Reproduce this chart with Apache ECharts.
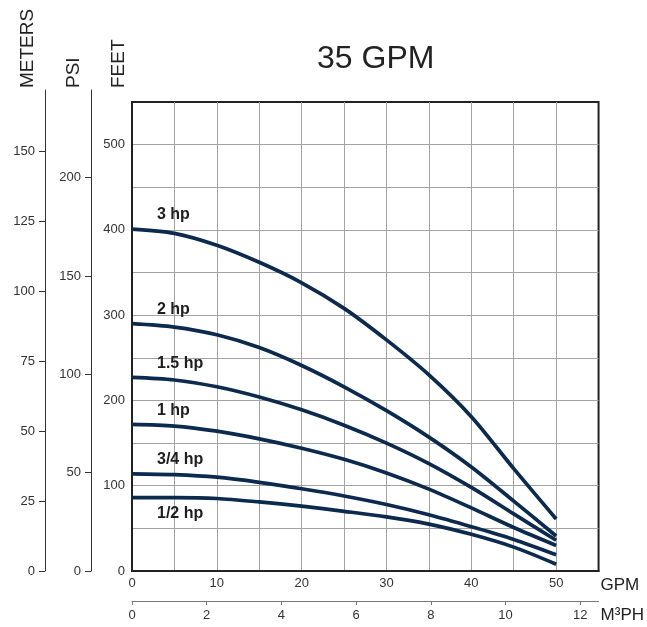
<!DOCTYPE html>
<html><head><meta charset="utf-8">
<script src="https://cdn.jsdelivr.net/npm/echarts@6/dist/echarts.min.js"></script>
<style>html,body{margin:0;padding:0;background:#fff}#c{width:647px;height:627px}</style>
</head><body><div id="c"></div>
<script>
// ---- data (flow in GPM, head in feet) ----
const gpm   = [0, 5, 10, 15, 20, 25, 30, 35, 40, 45, 50];
const hp3   = [401, 396, 382, 362, 338, 308, 271, 230, 181, 120, 61];
const hp2   = [290, 286, 277, 262, 241, 216, 188, 157, 122, 82, 41];
const hp15  = [227, 224, 216, 204, 189, 171, 150, 126, 98, 67, 36];
const hp1   = [172, 170, 164, 155, 144, 131, 115, 96, 74, 51, 30];
const hp34  = [114, 113, 110, 104, 96.5, 88, 78, 66, 52, 37, 19];
const hp12  = [86, 86, 85, 81, 76, 70, 63.5, 55, 43, 28, 8];
const curveNames = ['3 hp', '2 hp', '1.5 hp', '1 hp', '3/4 hp', '1/2 hp'];
const curveValues = [hp3, hp2, hp15, hp1, hp34, hp12];

// ---- tick labels ----
const feetTicks  = [0, 100, 200, 300, 400, 500];
const gpmTicks   = [0, 10, 20, 30, 40, 50];
const m3hTicks   = [0, 2, 4, 6, 8, 10, 12];
const meterTicks = [0, 25, 50, 75, 100, 125, 150];
const psiTicks   = [0, 50, 100, 150, 200];

// ---- unit conversions / ranges ----
const FT_PER_M = 3.2808, FT_PER_PSI = 2.3067, GPM_PER_M3H = 4.4029;
const FEET_MAX = 550, GPM_MAX = 55;

// ---- layout ----
const PLOT_TOP = 102, PLOT_BOTTOM = 571, AXIS_TOP = 90;
const extFeet = FEET_MAX * (PLOT_BOTTOM - AXIS_TOP) / (PLOT_BOTTOM - PLOT_TOP);
const FONT = '"Liberation Sans", Arial, Helvetica, sans-serif';
const NAVY = '#0b2a4e';
const labelStyle = { fontFamily: FONT, fontSize: 13, color: '#333' };

const chart = echarts.init(document.getElementById('c'), null, { renderer: 'canvas' });

const lineSeries = curveNames.map((n, i) => ({
  name: n,
  type: 'line',
  xAxisIndex: 0, yAxisIndex: 0,
  smooth: 0.3,
  showSymbol: false,
  symbol: 'none',
  lineStyle: { color: NAVY, width: 3.7, cap: 'butt' },
  data: gpm.map((g, j) => [g, curveValues[i][j]]),
  z: 3
}));

const labelSeries = {
  type: 'scatter',
  xAxisIndex: 0, yAxisIndex: 0,
  symbolSize: 0,
  itemStyle: { color: '#1e1e1e', opacity: 1 },
  silent: true,
  z: 4,
  data: curveNames.map((n, i) => ({
    name: n,
    value: [gpm[0], curveValues[i][0]],
    label: {
      show: true,
      formatter: '{b}',
      position: 'right',
      distance: 0,
      align: 'left',
      verticalAlign: 'middle',
      offset: i === curveNames.length - 1 ? [25, 16] : [25, -14],
      fontFamily: FONT, fontSize: 16, fontWeight: 'bold', color: '#1e1e1e',
      opacity: 1,
      textBorderWidth: 0
    }
  }))
};

const vertName = (text, x) => ({
  type: 'text',
  x: x, y: 88,
  rotation: Math.PI / 2,
  style: {
    text: text, fontFamily: FONT, fontSize: 19, fill: '#222',
    align: 'left', verticalAlign: 'middle',
    textAlign: 'left', textVerticalAlign: 'middle'
  }
});

chart.setOption({
  animation: false,
  backgroundColor: '#fff',
  title: {
    text: '35 GPM', left: 317, top: 43, padding: 0,
    textStyle: { fontFamily: FONT, fontSize: 32, fontWeight: 'normal', color: '#222' }
  },
  grid: [
    { left: 132, top: PLOT_TOP, right: 48, bottom: 627 - PLOT_BOTTOM, show: true,
      borderColor: '#222', borderWidth: 2, backgroundColor: '#fff', containLabel: false },
    { left: 45, top: AXIS_TOP, width: 20, bottom: 627 - PLOT_BOTTOM, show: false, containLabel: false },
    { left: 91, top: AXIS_TOP, width: 20, bottom: 627 - PLOT_BOTTOM, show: false, containLabel: false }
  ],
  xAxis: [
    { type: 'value', gridIndex: 0, min: 0, max: GPM_MAX, interval: 5,
      axisLine: { show: true, onZero: false, lineStyle: { color: '#222', width: 2 } },
      axisTick: { show: false },
      axisLabel: Object.assign({ margin: 6, formatter: v => gpmTicks.includes(v) ? String(v) : '' }, labelStyle),
      splitLine: { show: true, showMinLine: false, showMaxLine: false, lineStyle: { color: '#a3a3a3', width: 1 } },
      name: 'GPM', nameLocation: 'end', nameGap: 2,
      nameTextStyle: { fontFamily: FONT, fontSize: 17, color: '#222', align: 'left', verticalAlign: 'top', padding: [6, 0, 0, 0] }
    },
    { type: 'value', gridIndex: 0, position: 'bottom', offset: 30, min: 0, max: GPM_MAX / GPM_PER_M3H, interval: 2,
      axisLine: { show: true, onZero: false, lineStyle: { color: '#777', width: 1 } },
      axisTick: { show: true, length: 4, customValues: m3hTicks, lineStyle: { color: '#777' } },
      axisLabel: Object.assign({ margin: 8, customValues: m3hTicks }, labelStyle),
      splitLine: { show: false },
      name: 'M³PH', nameLocation: 'end', nameGap: 2,
      nameTextStyle: { fontFamily: FONT, fontSize: 17, color: '#222', align: 'left', verticalAlign: 'top', padding: [6, 0, 0, 0] }
    },
    { type: 'value', gridIndex: 1, show: false, min: 0, max: 1 },
    { type: 'value', gridIndex: 2, show: false, min: 0, max: 1 }
  ],
  yAxis: [
    { type: 'value', gridIndex: 0, min: 0, max: FEET_MAX, interval: 50,
      axisLine: { show: true, onZero: false, lineStyle: { color: '#222', width: 2 } },
      axisTick: { show: false },
      axisLabel: Object.assign({ margin: 7, formatter: v => feetTicks.includes(v) ? String(v) : '' }, labelStyle),
      splitLine: { show: true, showMinLine: false, showMaxLine: false, lineStyle: { color: '#a3a3a3', width: 1 } }
    },
    { type: 'value', gridIndex: 1, min: 0, max: extFeet / FT_PER_M, interval: 25,
      axisLine: { show: true, onZero: false, lineStyle: { color: '#333', width: 1 } },
      axisTick: { show: true, length: 6, customValues: meterTicks, lineStyle: { color: '#333' } },
      axisLabel: Object.assign({ margin: 10, customValues: meterTicks }, labelStyle),
      splitLine: { show: false }
    },
    { type: 'value', gridIndex: 2, min: 0, max: extFeet / FT_PER_PSI, interval: 50,
      axisLine: { show: true, onZero: false, lineStyle: { color: '#333', width: 1 } },
      axisTick: { show: true, length: 6, customValues: psiTicks, lineStyle: { color: '#333' } },
      axisLabel: Object.assign({ margin: 10, customValues: psiTicks }, labelStyle),
      splitLine: { show: false }
    }
  ],
  graphic: [
    vertName('METERS', 28),
    vertName('PSI', 74),
    vertName('FEET', 119)
  ],
  series: lineSeries.concat([labelSeries])
});
</script>
</body></html>
